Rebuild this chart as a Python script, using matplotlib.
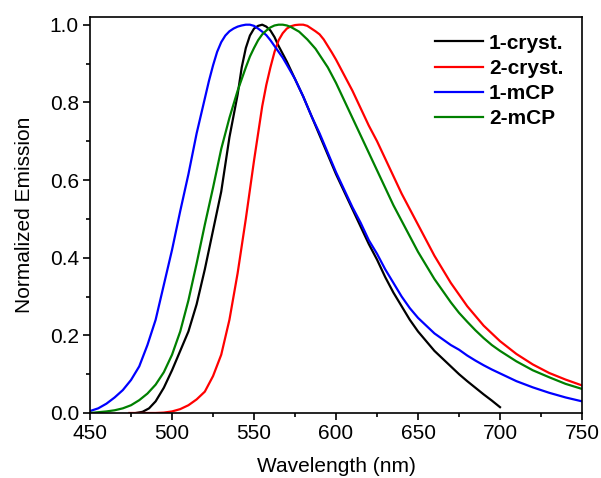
import matplotlib
matplotlib.use("Agg")
import matplotlib.pyplot as plt
from matplotlib.ticker import MultipleLocator, FormatStrFormatter

plt.rcParams['font.family'] = ['Liberation Sans', 'DejaVu Sans']

# 1-cryst. (black)
wl_1cryst = [478, 482, 486, 490, 495, 500, 505, 510, 515, 520, 525, 530, 535, 537.5, 540,
             542.5, 545, 547.5, 550, 552.5, 555, 557.5, 560, 562.5, 565, 567.5, 570, 575, 580, 585,
             590, 595, 600, 605, 610, 615, 620, 625, 630, 635, 640, 645, 650, 655, 660,
             665, 670, 675, 680, 685, 690, 695, 700]
em_1cryst = [0.0, 0.003, 0.012, 0.030, 0.065, 0.11, 0.16, 0.21, 0.28, 0.37, 0.47, 0.57, 0.71, 0.765, 0.82,
             0.89, 0.94, 0.972, 0.99, 0.997, 1.0, 0.995, 0.985, 0.968, 0.945, 0.925, 0.905, 0.86, 0.815, 0.765,
             0.715, 0.665, 0.615, 0.57, 0.525, 0.48, 0.435, 0.395, 0.35, 0.31, 0.275, 0.24, 0.21, 0.185, 0.16,
             0.14, 0.12, 0.10, 0.082, 0.065, 0.048, 0.032, 0.015]

# 2-cryst. (red)
wl_2cryst = [474, 480, 490, 495, 500, 505, 510, 515, 520, 525, 530, 535, 540, 545, 547.5,
             550, 552.5, 555, 557.5, 560, 562.5, 565, 567.5, 570, 572.5, 575, 577.5, 580, 582.5, 585,
             587.5, 590, 592.5, 595, 597.5, 600, 605, 610, 615, 620, 625, 630, 635, 640, 645,
             650, 655, 660, 665, 670, 675, 680, 685, 690, 695, 700, 710, 720, 730, 740, 750]
em_2cryst = [0.0, 0.0, 0.0, 0.001, 0.004, 0.01, 0.02, 0.035, 0.055, 0.095, 0.15, 0.24, 0.36, 0.50, 0.575,
             0.65, 0.72, 0.79, 0.845, 0.89, 0.93, 0.96, 0.978, 0.99, 0.996, 0.999, 1.0, 1.0, 0.997, 0.99,
             0.983, 0.975, 0.962, 0.945, 0.928, 0.91, 0.87, 0.83, 0.785, 0.74, 0.70, 0.655, 0.61, 0.565, 0.525,
             0.485, 0.445, 0.405, 0.37, 0.335, 0.305, 0.275, 0.25, 0.225, 0.205, 0.185, 0.152, 0.125, 0.103, 0.086, 0.071]

# 1-mCP (blue)
wl_1mcp = [450, 455, 460, 465, 470, 475, 480, 485, 490, 495, 500, 505, 510, 515, 520,
           522.5, 525, 527.5, 530, 532.5, 535, 537.5, 540, 542.5, 545, 547.5, 550, 552.5, 555, 557.5,
           560, 562.5, 565, 567.5, 570, 575, 580, 585, 590, 595, 600, 605, 610, 615, 620,
           625, 630, 635, 640, 645, 650, 655, 660, 665, 670, 675, 680, 685, 690, 695,
           700, 710, 720, 730, 740, 750]
em_1mcp = [0.005, 0.012, 0.024, 0.040, 0.059, 0.085, 0.12, 0.175, 0.24, 0.33, 0.42, 0.52, 0.615, 0.72, 0.81,
           0.855, 0.895, 0.93, 0.955, 0.972, 0.983, 0.99, 0.995, 0.998, 1.0, 1.0, 0.997, 0.99, 0.982, 0.973,
           0.96, 0.945, 0.93, 0.915, 0.897, 0.86, 0.815, 0.765, 0.72, 0.67, 0.62, 0.575, 0.53, 0.49, 0.445,
           0.41, 0.37, 0.335, 0.30, 0.27, 0.245, 0.225, 0.205, 0.19, 0.175, 0.163, 0.148, 0.135, 0.123, 0.112,
           0.102, 0.082, 0.066, 0.052, 0.040, 0.030]

# 2-mCP (green)
wl_2mcp = [450, 455, 460, 465, 470, 475, 480, 485, 490, 495, 500, 505, 510, 515, 520,
           525, 530, 535, 540, 545, 547.5, 550, 552.5, 555, 557.5, 560, 562.5, 565, 567.5, 570,
           572.5, 575, 577.5, 580, 582.5, 585, 587.5, 590, 595, 600, 605, 610, 615, 620, 625,
           630, 635, 640, 645, 650, 655, 660, 665, 670, 675, 680, 685, 690, 695, 700,
           710, 720, 730, 740, 750]
em_2mcp = [0.0, 0.002, 0.004, 0.007, 0.012, 0.02, 0.033, 0.05, 0.073, 0.105, 0.15, 0.21, 0.29, 0.385, 0.485,
           0.58, 0.68, 0.76, 0.83, 0.89, 0.918, 0.94, 0.96, 0.975, 0.985, 0.993, 0.998, 1.0, 1.0, 0.998,
           0.994, 0.988, 0.982, 0.972, 0.962, 0.95, 0.938, 0.922, 0.89, 0.85, 0.805, 0.76, 0.715, 0.67, 0.625,
           0.58, 0.535, 0.495, 0.455, 0.415, 0.38, 0.345, 0.315, 0.285, 0.258, 0.235, 0.213, 0.193, 0.175, 0.16,
           0.133, 0.110, 0.092, 0.075, 0.062]

fig = plt.figure(figsize=(6.01, 4.78), dpi=100)
ax = fig.add_axes([0.1498, 0.136, 0.8186, 0.8286])

lw = 1.6
ax.plot(wl_1cryst, em_1cryst, color='black', lw=lw, label='1-cryst.')
ax.plot(wl_2cryst, em_2cryst, color='#ff0000', lw=lw, label='2-cryst.')
ax.plot(wl_1mcp, em_1mcp, color='#0000ff', lw=lw, label='1-mCP')
ax.plot(wl_2mcp, em_2mcp, color='#008000', lw=lw, label='2-mCP')

ax.set_xlim(450, 750)
ax.set_ylim(0, 1.02)
ax.xaxis.set_major_locator(MultipleLocator(50))
ax.xaxis.set_minor_locator(MultipleLocator(25))
ax.yaxis.set_major_locator(MultipleLocator(0.2))
ax.yaxis.set_minor_locator(MultipleLocator(0.1))
ax.yaxis.set_major_formatter(FormatStrFormatter('%.1f'))

for s in ax.spines.values():
    s.set_linewidth(1.2)
ax.tick_params(which='both', direction='out', top=False, right=False, width=1.2, labelsize=15)
ax.tick_params(which='major', length=5, pad=3)
ax.tick_params(which='minor', length=3)

# the reference has this label pushed close to the bottom edge
ax.set_xlabel('Wavelength (nm)', fontsize=15, labelpad=10)
ax.set_ylabel('Normalized Emission', fontsize=15, labelpad=11)

leg = ax.legend(loc='upper right', frameon=False, handlelength=2.3, handletextpad=0.3,
                labelspacing=0.3, prop={'weight': 'bold', 'size': 15},
                bbox_to_anchor=(1.0, 1.005))

fig.savefig('out.png', dpi=100)
